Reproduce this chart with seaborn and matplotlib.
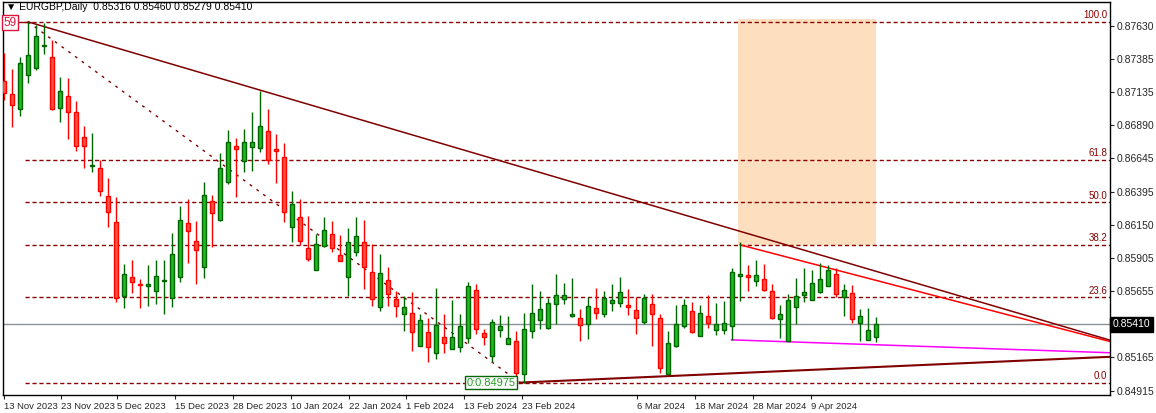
import numpy as np
import pandas as pd
import matplotlib
matplotlib.use("Agg")
import matplotlib.pyplot as plt
import seaborn as sns

opens = [0.87220,0.87124,0.87012,0.87265,0.87317,0.87481,0.87399,0.87019,0.87109,0.86990,
         0.86804,0.86588,0.86573,0.86365,0.86171,0.85621,0.85762,0.85710,0.85695,0.85658,
         0.85732,0.85606,0.85762,0.86164,0.86030,0.85836,0.86328,0.86186,0.86469,0.86737,
         0.86625,0.86729,0.86722,0.86848,0.86714,0.86655,0.86134,0.86208,0.85978,0.85814,
         0.85993,0.86082,0.85926,0.85762,0.85948,0.86022,0.85799,0.85539,0.85740,0.85599,
         0.85487,0.85494,0.85249,0.85353,0.85197,0.85316,0.85226,0.85241,0.85308,0.85665,
         0.85346,0.85174,0.85368,0.85264,0.85286,0.85041,0.85360,0.85442,0.85383,0.85561,
         0.85599,0.85472,0.85457,0.85412,0.85531,0.85487,0.85569,0.85569,0.85554,0.85517,
         0.85427,0.85561,0.85457,0.85041,0.85249,0.85398,0.85509,0.85323,0.85472,0.85368,
         0.85368,0.85398,0.85770,0.85777,0.85732,0.85747,0.85658,0.85450,0.85286,0.85539,
         0.85628,0.85591,0.85651,0.85695,0.85785,0.85613,0.85643,0.85420,0.85293,0.85316]
highs = [0.87429,0.87310,0.87399,0.87659,0.87637,0.87652,0.87525,0.87250,0.87243,0.87072,
         0.86886,0.86833,0.86633,0.86499,0.86357,0.85859,0.85889,0.85747,0.85851,0.85889,
         0.85889,0.86089,0.86290,0.86342,0.86179,0.86469,0.86372,0.86685,0.86856,0.86796,
         0.86863,0.86990,0.87146,0.87012,0.86826,0.86759,0.86402,0.86342,0.86216,0.86082,
         0.86208,0.86179,0.86075,0.86127,0.86208,0.86186,0.86003,0.85933,0.85836,0.85658,
         0.85621,0.85651,0.85487,0.85457,0.85680,0.85487,0.85591,0.85487,0.85725,0.85710,
         0.85375,0.85450,0.85479,0.85472,0.85360,0.85494,0.85710,0.85658,0.85606,0.85785,
         0.85717,0.85755,0.85524,0.85613,0.85680,0.85658,0.85710,0.85762,0.85673,0.85613,
         0.85636,0.85636,0.85487,0.85360,0.85554,0.85599,0.85576,0.85554,0.85628,0.85569,
         0.85584,0.85829,0.86022,0.85851,0.85889,0.85859,0.85710,0.85554,0.85636,0.85755,
         0.85829,0.85814,0.85866,0.85851,0.85829,0.85710,0.85703,0.85524,0.85531,0.85460]
lows = [0.87079,0.86878,0.86960,0.87205,0.87302,0.87421,0.87005,0.86915,0.86789,0.86700,
        0.86573,0.86543,0.86365,0.86134,0.85576,0.85531,0.85643,0.85531,0.85546,0.85561,
        0.85487,0.85539,0.85725,0.85866,0.85710,0.85755,0.85985,0.86179,0.86454,0.86357,
        0.86543,0.86551,0.86692,0.86603,0.86461,0.86171,0.86022,0.86000,0.85881,0.85814,
        0.85985,0.85948,0.85878,0.85621,0.85918,0.85673,0.85546,0.85509,0.85546,0.85464,
        0.85360,0.85212,0.85245,0.85130,0.85152,0.85197,0.85222,0.85204,0.85271,0.85338,
        0.85253,0.85130,0.85316,0.85260,0.84978,0.84975,0.85308,0.85375,0.85375,0.85412,
        0.85561,0.85464,0.85286,0.85301,0.85450,0.85464,0.85509,0.85539,0.85479,0.85338,
        0.85412,0.85249,0.85048,0.85038,0.85241,0.85383,0.85346,0.85323,0.85383,0.85331,
        0.85338,0.85293,0.85584,0.85658,0.85695,0.85660,0.85450,0.85308,0.85286,0.85412,
        0.85576,0.85591,0.85643,0.85695,0.85613,0.85472,0.85420,0.85286,0.85293,0.85279]
closes = [0.87131,0.87042,0.87354,0.87414,0.87555,0.87484,0.87012,0.87146,0.86990,0.86737,
          0.86737,0.86595,0.86402,0.86246,0.85606,0.85785,0.85725,0.85703,0.85710,0.85770,
          0.85735,0.85933,0.86186,0.86104,0.85963,0.86372,0.86238,0.86573,0.86767,0.86714,
          0.86767,0.86767,0.86886,0.86633,0.86700,0.86246,0.86305,0.86030,0.85896,0.86008,
          0.86112,0.85978,0.85881,0.86022,0.86067,0.85836,0.85599,0.85792,0.85636,0.85546,
          0.85539,0.85353,0.85442,0.85241,0.85405,0.85271,0.85316,0.85398,0.85695,0.85375,
          0.85316,0.85427,0.85398,0.85308,0.85048,0.85375,0.85494,0.85524,0.85569,0.85628,
          0.85628,0.85487,0.85405,0.85546,0.85494,0.85606,0.85591,0.85651,0.85539,0.85457,
          0.85606,0.85487,0.85085,0.85271,0.85412,0.85554,0.85353,0.85494,0.85420,0.85412,
          0.85420,0.85799,0.85785,0.85762,0.85777,0.85665,0.85457,0.85487,0.85591,0.85621,
          0.85651,0.85717,0.85747,0.85814,0.85636,0.85665,0.85450,0.85472,0.85368,0.85410]

date_labels = ["13 Nov 2023","23 Nov 2023","5 Dec 2023","15 Dec 2023","28 Dec 2023",
               "10 Jan 2024","22 Jan 2024","1 Feb 2024","13 Feb 2024","23 Feb 2024",
               "6 Mar 2024","18 Mar 2024","28 Mar 2024","9 Apr 2024"]
date_pos = [0, 7.1, 14.1, 21.4, 28.6, 35.9, 43.1, 50.3, 57.5, 64.8, 79.1, 86.4, 93.6, 100.9]
y_ticks = [0.87630,0.87385,0.87135,0.86890,0.86645,0.86395,0.86150,0.85905,0.85655,0.85165,0.84915]

fib_high, fib_low = 0.87659, 0.84975
fib_ratios = [0.0, 23.6, 38.2, 50.0, 61.8, 100.0]
last_price = 0.85410

main_line_x, main_line_y = [3, 138.3], [0.87659, 0.85290]
red_line_x, red_line_y = [92, 138.3], [0.86000, 0.85280]
dotted_x, dotted_y = [3, 64.5], [0.87659, 0.84975]
magenta_x, magenta_y = [90.9, 138.3], [0.85293, 0.85197]
support_x, support_y = [64.5, 138.3], [0.84975, 0.85167]
box_x, box_y = [91.8, 109.0], [0.86000, 0.87680]

sns.set_style("white")
plt.rcParams['font.family'] = ['Liberation Sans', 'DejaVu Sans']

fig = plt.figure(figsize=(11.56, 4.13), dpi=100)
ax = fig.add_axes([0.0026, 0.044, 0.9576, 0.9516])
xmin, xmax = -0.125, 138.25
ymin, ymax = 0.84884, 0.87808
ax.set_xlim(xmin, xmax)
ax.set_ylim(ymin, ymax)

df = pd.DataFrame({"o": opens, "h": highs, "l": lows, "c": closes})
df["i"] = np.arange(len(df))
up = df["c"] >= df["o"]

ax.fill_between(box_x, box_y[0], box_y[1], color="#FDDFBF", lw=0, zorder=0)

rng = fib_high - fib_low
for r in fib_ratios:
    lvl = fib_low + rng * r / 100
    ax.hlines(lvl, 2.6, xmax, colors="#8B0000", linestyles=(0, (3, 2)), lw=1, zorder=1)
    ax.text(137.9, lvl + 0.00012, f"{r:.1f}", ha="right", va="bottom", fontsize=7, color="#8B0000")
ax.hlines(fib_high, -0.2, 3, colors="#8B0000", lw=1)

ax.axhline(last_price, color="#8C9196", lw=1, zorder=1)

sns.lineplot(x=main_line_x, y=main_line_y, ax=ax, color="#800000", lw=1.1, zorder=2)
sns.lineplot(x=red_line_x, y=red_line_y, ax=ax, color="#FF0000", lw=1.1, zorder=2)
sns.lineplot(x=dotted_x, y=dotted_y, ax=ax, color="#800000", lw=1, linestyle=(0, (2, 4)), zorder=2)
sns.lineplot(x=magenta_x, y=magenta_y, ax=ax, color="#FF00FF", lw=1.1, zorder=2)
sns.lineplot(x=support_x, y=support_y, ax=ax, color="#800000", lw=1.5, zorder=2)

for sel, fc, ec in [(up, "#22B822", "#006400"), (~up, "#FF5040", "#FF0000")]:
    d = df[sel]
    ax.vlines(d["i"], d["l"], d["h"], colors=ec, lw=1, zorder=3)
    bottom = np.minimum(d["o"], d["c"])
    height = np.maximum(np.abs(d["c"] - d["o"]), 0.00005)
    ax.bar(d["i"], height, bottom=bottom, width=0.62, color=fc, edgecolor=ec, lw=1, zorder=4)

ax.yaxis.tick_right()
ax.set_yticks(y_ticks)
ax.set_yticklabels([f"{v:.5f}" for v in y_ticks], fontsize=7.5)
ax.tick_params(axis="y", length=3, pad=2, direction="out", right=True)
ax.set_xticks(date_pos)
ax.set_xticklabels(date_labels, fontsize=6.8, ha="left")
ax.tick_params(axis="x", length=3, pad=2, direction="out", bottom=True)
for s in ax.spines.values():
    s.set_color("black"); s.set_linewidth(1)

ax.text(xmax + 0.3, last_price, f"{last_price:.5f}", transform=ax.transData, fontsize=7.5,
        color="white", va="center", ha="left", clip_on=False,
        bbox=dict(boxstyle="square,pad=0.25", fc="black", ec="black"))
ax.text(57.8, fib_low, f"0:{fib_low:.5f}", fontsize=8, color="#22A022", va="center", ha="left",
        bbox=dict(boxstyle="square,pad=0.15", fc="white", ec="#006400"), zorder=6)
ax.text(-0.1, fib_high - 0.00005, "59", fontsize=8.5, color="#DC143C", va="center", ha="left",
        bbox=dict(boxstyle="square,pad=0.1", fc="white", ec="#DC143C"), zorder=6)
ax.text(0.2, 0.87766, "\u25BC EURGBP,Daily  0.85316 0.85460 0.85279 0.85410", fontsize=7.5,
        ha="left", va="center", color="black", zorder=6)

fig.savefig("out.png", dpi=100, facecolor="white")
